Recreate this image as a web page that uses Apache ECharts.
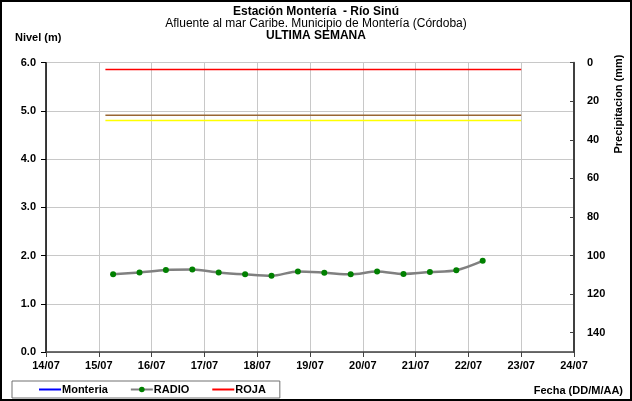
<!DOCTYPE html>
<html>
<head>
<meta charset="utf-8">
<script src="https://cdn.jsdelivr.net/npm/echarts@6/dist/echarts.min.js"></script>
<style>html,body{margin:0;padding:0;background:#fff;}#c{width:632px;height:401px;}</style>
</head>
<body>
<div id="c"></div>
<script>
const titleText = 'Estación Montería  - Río Sinú';
const subtitleText = 'Afluente al mar Caribe. Municipio de Montería (Córdoba)';
const periodText = 'ULTIMA SEMANA';
const xTickLabels = ['14/07','15/07','16/07','17/07','18/07','19/07','20/07','21/07','22/07','23/07','24/07'];
const radioTimes = ['15/07 06:30','15/07 18:30','16/07 06:30','16/07 18:30','17/07 06:30','17/07 18:30','18/07 06:30','18/07 18:30','19/07 06:30','19/07 18:30','20/07 06:30','20/07 18:30','21/07 06:30','21/07 18:30','22/07 06:30'];
const radioLevels = [1.61,1.65,1.70,1.71,1.65,1.61,1.58,1.67,1.645,1.61,1.67,1.62,1.66,1.695,1.89];
const monteriaTimes = [];
const monteriaLevels = [];
const thresholdTimes = ['15/07 03:00','23/07 00:00'];
const rojaLevel = 5.86;
const brownLevel = 4.91;
const yellowLevel = 4.80;

function toDay(s){
  const [d, t] = s.split(' ');
  const [dd] = d.split('/').map(Number);
  const [hh, mm] = t.split(':').map(Number);
  return dd + hh/24 + mm/1440;
}
const radioData = radioTimes.map((t,i)=>[toDay(t), radioLevels[i]]);
const monteriaData = monteriaTimes.map((t,i)=>[toDay(t), monteriaLevels[i]]);
const flat = v => thresholdTimes.map(t=>[toDay(t), v]);

const FONT = '"Liberation Sans", Arial, sans-serif';
const chart = echarts.init(document.getElementById('c'));
chart.setOption({
  animation: false,
  backgroundColor: '#fff',
  grid: { left: 46, right: 58, top: 62.7, bottom: 49, containLabel: false },
  title: [
    { text: titleText, left: 'center', top: 1, textStyle: { fontFamily: FONT, fontSize: 12, fontWeight: 'bold', color: '#000' } },
    { text: subtitleText, left: 'center', top: 13, textStyle: { fontFamily: FONT, fontSize: 12, fontWeight: 'normal', color: '#000' } },
    { text: periodText, left: 'center', top: 25, textStyle: { fontFamily: FONT, fontSize: 12, fontWeight: 'bold', color: '#000' } },
    { text: 'Nivel (m)', left: 10, top: 27, textStyle: { fontFamily: FONT, fontSize: 11, fontWeight: 'bold', color: '#000' } },
    { text: 'Fecha (DD/M/AA)', right: 4, top: 380, textStyle: { fontFamily: FONT, fontSize: 11, fontWeight: 'bold', color: '#000' } }
  ],
  legend: {
    data: [
      { name: 'Monteria', itemStyle: { opacity: 0 } },
      { name: 'RADIO', lineStyle: { color: '#808080' }, itemStyle: { color: '#008000' } },
      { name: 'ROJA', itemStyle: { opacity: 0 } }
    ],
    left: 12, top: 381,
    orient: 'horizontal',
    itemWidth: 22, itemHeight: 7, itemGap: 22,
    padding: [3, 14, 3, 26],
    borderColor: '#707070', borderWidth: 1,
    textStyle: { fontFamily: FONT, fontSize: 11, fontWeight: 'bold', color: '#000', padding: [0,0,0,-4] }
  },
  xAxis: {
    type: 'value', min: 14, max: 24, interval: 1,
    axisLine: { show: true, lineStyle: { color: '#404040', width: 1.5 } },
    axisTick: { show: true, length: 5, lineStyle: { color: '#404040' } },
    axisLabel: { fontFamily: FONT, fontSize: 11, fontWeight: 'bold', color: '#000', margin: 8,
      formatter: v => xTickLabels[Math.round(v) - 14] || '' },
    splitLine: { show: true, lineStyle: { color: '#c8c8c8', width: 1 } }
  },
  yAxis: [
    { type: 'value', min: 0, max: 6, interval: 1, position: 'left',
      axisLine: { show: true, lineStyle: { color: '#000', width: 1.5 } },
      axisTick: { show: true, length: 5, lineStyle: { color: '#000' } },
      axisLabel: { fontFamily: FONT, fontSize: 11, fontWeight: 'bold', color: '#000', margin: 10, formatter: v => v.toFixed(1) },
      splitLine: { show: true, lineStyle: { color: '#c8c8c8', width: 1 } } },
    { type: 'value', min: 0, max: 150, interval: 20, position: 'right', inverse: true,
      axisLine: { show: true, lineStyle: { color: '#404040', width: 2 } },
      axisTick: { show: true, length: 4, inside: true, lineStyle: { color: '#404040' } },
      axisLabel: { fontFamily: FONT, fontSize: 11, fontWeight: 'bold', color: '#000', margin: 13, showMaxLabel: false },
      splitLine: { show: false } }
  ],
  graphic: [
    { type: 'rect', shape: { x: 1, y: 1, width: 630, height: 399 }, style: { fill: 'none', stroke: '#000', lineWidth: 2 }, silent: true },
    { type: 'text', x: 619, y: 104, rotation: Math.PI/2, style: { text: 'Precipitacion (mm)', font: 'bold 11px ' + FONT, fill: '#000', textAlign: 'center', textVerticalAlign: 'middle' } }
  ],
  series: [
    { name: 'Monteria', type: 'line', data: monteriaData, showSymbol: false, symbol: 'none', lineStyle: { color: '#0000ff', width: 2 }, itemStyle: { color: '#0000ff' } },
    { name: 'RADIO', type: 'line', data: radioData, smooth: 0.3, symbol: 'circle', symbolSize: 6,
      lineStyle: { color: '#808080', width: 2.5 }, itemStyle: { color: '#008000' } },
    { name: 'ROJA', type: 'line', data: flat(rojaLevel), symbol: 'none', lineStyle: { color: '#ff0000', width: 1.5 }, itemStyle: { color: '#ff0000' } },
    { name: 'NARANJA', type: 'line', data: flat(brownLevel), symbol: 'none', lineStyle: { color: '#996633', width: 1.5 }, itemStyle: { color: '#996633' } },
    { name: 'AMARILLA', type: 'line', data: flat(yellowLevel), symbol: 'none', lineStyle: { color: '#ffff00', width: 1.5 }, itemStyle: { color: '#ffff00' } }
  ]
});
</script>
</body>
</html>
